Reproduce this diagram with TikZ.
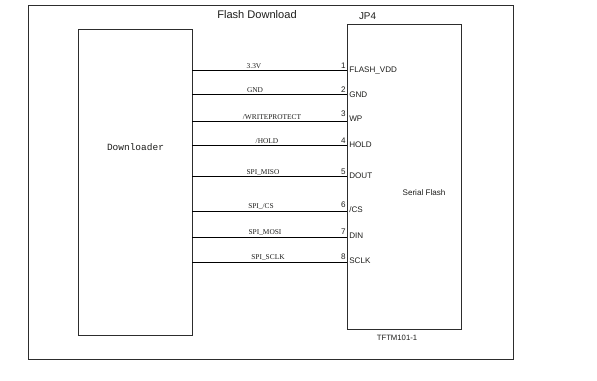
\documentclass[tikz,border=0pt]{standalone}
\usepackage{fontspec}
\setmainfont{Liberation Sans}
\newfontfamily\netfont{Liberation Serif}
\newfontfamily\monofont{Liberation Mono}
\definecolor{colorline}{RGB}{45,45,45}
\definecolor{colortext}{RGB}{29,29,27}

\begin{document}
\begin{tikzpicture}[
    x=0.02cm, y=-0.02cm,
    box/.style={draw=colorline,line width=0.4pt,inner sep=0pt},
    wire/.style={draw=black,line width=0.4pt},
    title/.style={text=colortext,font={\fontsize{6.3}{7}\selectfont},inner sep=0pt},
    pinname/.style={text=colortext,font={\fontsize{4.6}{6}\selectfont},anchor=west,inner sep=0pt},
    pinnum/.style={text=colortext,font={\fontsize{4.6}{6}\selectfont},anchor=east,inner sep=0pt},
    net/.style={text=colortext,font={\netfont\fontsize{4.2}{5}\selectfont},inner sep=0pt},
]

    \useasboundingbox (0,0) rectangle (597,381);

    \node[box,minimum width=9.7cm,minimum height=7.08cm] (frame) at (270.5,182) {};
    \node[box,minimum width=2.28cm,minimum height=6.12cm] (downloader) at (135,182) {};
    \node[box,minimum width=2.28cm,minimum height=6.1cm] (flash) at (404,176.5) {};

    \node[title] (heading) at (257,15) {Flash Download};
    \node[title,font={\fontsize{5.6}{7}\selectfont}] (jp) at (367.5,16) {JP4};
    \node[text=colortext,font={\monofont\fontsize{5.4}{6}\selectfont},inner sep=0pt] (dlname) at (135.5,147) {Downloader};
    \node[text=colortext,font={\fontsize{4.6}{6}\selectfont},inner sep=0pt] (flashname) at (424,193) {Serial Flash};
    \node[text=colortext,font={\fontsize{4.4}{6}\selectfont},inner sep=0pt] (partname) at (397,338) {TFTM101-1};

    % pins on the flash side
    \coordinate (pin1) at (347,70);
    \coordinate (pin2) at (347,94);
    \coordinate (pin3) at (347,121);
    \coordinate (pin4) at (347,145);
    \coordinate (pin5) at (347,176);
    \coordinate (pin6) at (347,211);
    \coordinate (pin7) at (347,237);
    \coordinate (pin8) at (347,262);

    \draw[wire] (downloader.east |- pin1) -- (pin1);
    \draw[wire] (downloader.east |- pin2) -- (pin2);
    \draw[wire] (downloader.east |- pin3) -- (pin3);
    \draw[wire] (downloader.east |- pin4) -- (pin4);
    \draw[wire] (downloader.east |- pin5) -- (pin5);
    \draw[wire] (downloader.east |- pin6) -- (pin6);
    \draw[wire] (downloader.east |- pin7) -- (pin7);
    \draw[wire] (downloader.east |- pin8) -- (pin8);

    \node[net] (net1) at (254,66) {3.3V};
    \node[net] (net2) at (255,90.5) {GND};
    \node[net] (net3) at (272,117) {/WRITEPROTECT};
    \node[net] (net4) at (267,141.5) {/HOLD};
    \node[net] (net5) at (263,172.5) {SPI\_MISO};
    \node[net] (net6) at (261,207) {SPI\_/CS};
    \node[net] (net7) at (265,232.5) {SPI\_MOSI};
    \node[net] (net8) at (268,257.5) {SPI\_SCLK};

    \node[pinnum] (num1) at (346,66) {1};
    \node[pinnum] (num2) at (346,90) {2};
    \node[pinnum] (num3) at (346,114) {3};
    \node[pinnum] (num4) at (346,141) {4};
    \node[pinnum] (num5) at (346,172) {5};
    \node[pinnum] (num6) at (346,205) {6};
    \node[pinnum] (num7) at (346,232) {7};
    \node[pinnum] (num8) at (346,257) {8};

    \node[pinname] (name1) at (349,70) {FLASH\_VDD};
    \node[pinname] (name2) at (349,95) {GND};
    \node[pinname] (name3) at (349,119) {WP};
    \node[pinname] (name4) at (349,145) {HOLD};
    \node[pinname] (name5) at (349,176) {DOUT};
    \node[pinname] (name6) at (349,210) {/CS};
    \node[pinname] (name7) at (349,236) {DIN};
    \node[pinname] (name8) at (349,261) {SCLK};

\end{tikzpicture}
\end{document}
